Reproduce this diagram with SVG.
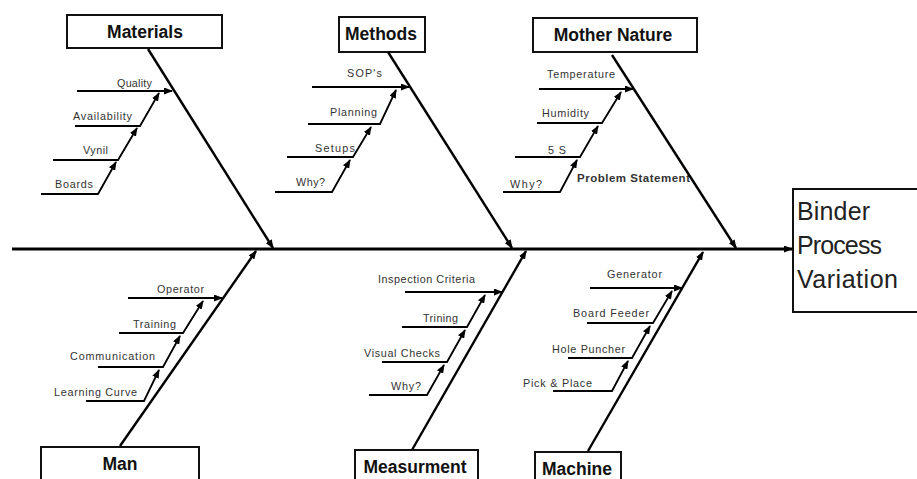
<svg xmlns="http://www.w3.org/2000/svg" width="917" height="479" viewBox="0 0 917 479">
  <style>
    .box { fill: #fff; stroke: #111; stroke-width: 2; }
    .title { font-family: "Liberation Sans", Arial, sans-serif; font-weight: bold; font-size: 17.5px; fill: #111; text-anchor: middle; }
    .lbl { font-family: "Liberation Sans", Arial, sans-serif; font-size: 10.8px; fill: #333; }
    .stmt { font-family: "Liberation Sans", Arial, sans-serif; font-size: 11.5px; font-weight: bold; fill: #333; }
    .effect { font-family: "Liberation Sans", Arial, sans-serif; font-size: 25px; fill: #222; }
    .spine { stroke: #000; stroke-width: 3; fill: none; }
    .bone { stroke: #000; stroke-width: 2.4; fill: none; }
    .sub { stroke: #000; stroke-width: 1.8; fill: none; }
  </style>
  <defs>
    <marker id="arr" markerUnits="userSpaceOnUse" markerWidth="9" markerHeight="7" refX="8" refY="3.5" orient="auto">
      <path d="M0,0 L9,3.5 L0,7 z" fill="#000"/>
    </marker>
  </defs>
  <rect width="917" height="479" fill="#fff"/>

  <!-- effect -->
  <g id="effect">
    <rect class="box" x="793" y="189" width="130" height="123"/>
    <text class="effect" x="797" y="220" textLength="73">Binder</text>
    <text class="effect" x="797" y="254" textLength="85">Process</text>
    <text class="effect" x="797" y="288" textLength="101">Variation</text>
  </g>

  <!-- cause categories -->
  <g id="materials">
    <rect class="box" x="67" y="15" width="155" height="33"/>
    <text class="title" x="145" y="38">Materials</text>
    <text class="lbl" x="117" y="87" textLength="35">Quality</text>
    <text class="lbl" x="73" y="120" textLength="59">Availability</text>
    <text class="lbl" x="83" y="154" textLength="25">Vynil</text>
    <text class="lbl" x="55" y="188" textLength="38">Boards</text>
  </g>
  <g id="methods">
    <rect class="box" x="339" y="17" width="86" height="35"/>
    <text class="title" x="381" y="40">Methods</text>
    <text class="lbl" x="347" y="77" textLength="35">SOP's</text>
    <text class="lbl" x="330" y="116" textLength="47">Planning</text>
    <text class="lbl" x="315" y="152" textLength="40">Setups</text>
    <text class="lbl" x="296" y="186" textLength="29">Why?</text>
  </g>
  <g id="mother-nature">
    <rect class="box" x="533" y="18" width="164" height="34"/>
    <text class="title" x="613" y="41">Mother Nature</text>
    <text class="lbl" x="547" y="78" textLength="68">Temperature</text>
    <text class="lbl" x="542" y="117" textLength="47">Humidity</text>
    <text class="lbl" x="548" y="154" textLength="18">5 S</text>
    <text class="lbl" x="510" y="188" textLength="32">Why?</text>
    <text class="stmt" x="577" y="182" textLength="113">Problem Statement</text>
  </g>
  <g id="man">
    <rect class="box" x="41" y="447" width="158" height="40"/>
    <text class="title" x="120" y="470">Man</text>
    <text class="lbl" x="157" y="293" textLength="47">Operator</text>
    <text class="lbl" x="133" y="328" textLength="43">Training</text>
    <text class="lbl" x="70" y="360" textLength="85">Communication</text>
    <text class="lbl" x="54" y="396" textLength="83">Learning Curve</text>
  </g>
  <g id="measurment">
    <rect class="box" x="355" y="450" width="123" height="40"/>
    <text class="title" x="415" y="473">Measurment</text>
    <text class="lbl" x="378" y="283" textLength="97">Inspection Criteria</text>
    <text class="lbl" x="423" y="322" textLength="35">Trining</text>
    <text class="lbl" x="364" y="357" textLength="76">Visual Checks</text>
    <text class="lbl" x="391" y="390" textLength="30">Why?</text>
  </g>
  <g id="machine">
    <rect class="box" x="535" y="452" width="86" height="40"/>
    <text class="title" x="577" y="475">Machine</text>
    <text class="lbl" x="607" y="278" textLength="55">Generator</text>
    <text class="lbl" x="573" y="317" textLength="76">Board Feeder</text>
    <text class="lbl" x="552" y="353" textLength="73">Hole Puncher</text>
    <text class="lbl" x="523" y="387" textLength="69">Pick &amp; Place</text>
  </g>

  <!-- connectors -->
  <g id="connectors">
    <line class="spine" x1="12" y1="249" x2="792" y2="249" marker-end="url(#arr)"/>

    <!-- main bones -->
    <line class="bone" x1="148" y1="49" x2="273" y2="248" marker-end="url(#arr)"/>
    <line class="bone" x1="388" y1="52" x2="512" y2="248" marker-end="url(#arr)"/>
    <line class="bone" x1="612" y1="55" x2="736" y2="248" marker-end="url(#arr)"/>
    <line class="bone" x1="120" y1="446" x2="256" y2="251" marker-end="url(#arr)"/>
    <line class="bone" x1="412" y1="450" x2="526" y2="251" marker-end="url(#arr)"/>
    <line class="bone" x1="588" y1="451" x2="703" y2="252" marker-end="url(#arr)"/>

    <!-- materials -->
    <line class="sub" x1="77" y1="91" x2="172" y2="91" marker-end="url(#arr)"/>
    <polyline class="sub" points="75,126 140,126 159,93" marker-end="url(#arr)"/>
    <polyline class="sub" points="53,160 118,160 137,128" marker-end="url(#arr)"/>
    <polyline class="sub" points="41,194 98,194 116,162" marker-end="url(#arr)"/>

    <!-- methods -->
    <line class="sub" x1="312" y1="87" x2="409" y2="87" marker-end="url(#arr)"/>
    <polyline class="sub" points="308,124 380,124 396,90" marker-end="url(#arr)"/>
    <polyline class="sub" points="287,157 353,157 371,127" marker-end="url(#arr)"/>
    <polyline class="sub" points="275,192 332,192 350,160" marker-end="url(#arr)"/>

    <!-- mother nature -->
    <line class="sub" x1="539" y1="89" x2="633" y2="89" marker-end="url(#arr)"/>
    <polyline class="sub" points="537,123 602,123 621,92" marker-end="url(#arr)"/>
    <polyline class="sub" points="515,157 580,157 598,126" marker-end="url(#arr)"/>
    <polyline class="sub" points="503,192 560,192 577,160" marker-end="url(#arr)"/>

    <!-- man -->
    <line class="sub" x1="128" y1="298" x2="222" y2="298" marker-end="url(#arr)"/>
    <polyline class="sub" points="119,333 183,333 203,301" marker-end="url(#arr)"/>
    <polyline class="sub" points="98,367 163,367 180,336" marker-end="url(#arr)"/>
    <polyline class="sub" points="86,401 144,401 159,370" marker-end="url(#arr)"/>

    <!-- measurment -->
    <line class="sub" x1="405" y1="292" x2="502" y2="292" marker-end="url(#arr)"/>
    <polyline class="sub" points="402,327 467,327 485,295" marker-end="url(#arr)"/>
    <polyline class="sub" points="382,362 447,362 465,330" marker-end="url(#arr)"/>
    <polyline class="sub" points="369,395 427,395 444,365" marker-end="url(#arr)"/>

    <!-- machine -->
    <line class="sub" x1="590" y1="288" x2="682" y2="288" marker-end="url(#arr)"/>
    <polyline class="sub" points="587,323 653,323 672,291" marker-end="url(#arr)"/>
    <polyline class="sub" points="568,358 632,358 650,326" marker-end="url(#arr)"/>
    <polyline class="sub" points="553,391 612,391 628,361" marker-end="url(#arr)"/>
  </g>
</svg>
